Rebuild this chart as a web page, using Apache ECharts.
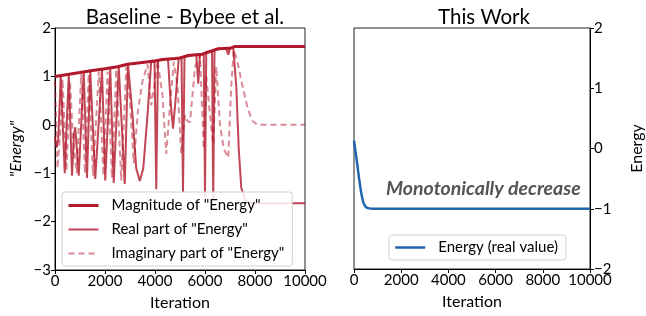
<!DOCTYPE html>
<html>
<head>
<meta charset="utf-8">
<script src="https://cdn.jsdelivr.net/npm/echarts@6/dist/echarts.min.js"></script>
<style>
  html, body { margin: 0; padding: 0; background: #fff; }
  #main { width: 646px; height: 316px; }
</style>
</head>
<body>
<div id="main"></div>
<script>
// Baseline - magnitude of "Energy"
const magIter = [0, 500, 1000, 1500, 2000, 2500, 2900, 3400, 4000, 4300, 4800, 5000, 5300, 5900, 6100, 6300, 6500, 7000, 7200, 10000]
const magVals = [1.0, 1.04, 1.08, 1.12, 1.16, 1.2, 1.25, 1.28, 1.32, 1.35, 1.37, 1.38, 1.43, 1.46, 1.5, 1.53, 1.57, 1.58, 1.62, 1.62]

// Baseline - real part
const realIter = [0, 60, 130, 230, 390, 550, 680, 760, 810, 950, 1150, 1280, 1410, 1610, 1880, 2010, 2210, 2350, 2550, 2790, 2920,
  3100, 3250, 3390, 3530, 3700, 3850, 3980, 4050, 4120, 4520, 4620, 4720, 4820, 4950, 5060, 5120, 5180,
  5650, 5730, 5800, 5950, 6000, 6050, 6280, 6330, 6380, 6850, 6930, 7000, 7130, 7250, 7350, 7450, 7600, 7800, 10000]
const realVals = [-0.25, -0.47, -0.3, 1.02, -1.0, 1.05, -1.05, -0.2, -0.05, -1.05, 1.1, -1.1, 1.12, -1.12, 1.15, -1.15, 1.18, -1.2, 1.2, -1.22, 1.26,
  0.2, -0.9, -1.16, -0.9, 0.2, 1.32, 1.33, -1.33, 1.34, 1.36, 0.5, -0.08, 0.5, 1.38, 1.39, -1.4, 1.4,
  1.45, 0.85, 1.46, 1.47, -1.5, 1.48, 1.52, -1.55, 1.55, 1.58, 1.45, 1.58, 1.6, 0.8, -0.5, -1.3, -1.55, -1.62, -1.62]

// Baseline - imaginary part
const imagIter = [0, 100, 230, 300, 460, 600, 720, 870, 1050, 1200, 1350, 1520, 1750, 1940, 2100, 2280, 2450, 2650, 2850,
  3000, 3150, 3320, 3500, 3700, 3850, 4000, 4100, 4300, 4450, 4600, 4750, 4900, 5050, 5200, 5300, 5400,
  5600, 5800, 5950, 6050, 6200, 6330, 6450, 6600, 6750, 6930, 7050, 7150, 7300, 7500, 7700, 7900, 8100, 10000]
const imagVals = [0.9, -0.9, 0.0, 0.95, -0.95, 0.9, -0.3, -1.0, 1.05, -1.0, 1.05, -1.05, 1.1, -1.05, 1.1, -1.1, 1.15, -1.15, 1.2,
  0.5, -0.8, 0.3, 0.9, 1.25, 0.4, 0.9, 1.33, 0.6, -0.6, 0.4, 1.3, 0.8, -0.6, 0.2, 0.08, 0.05,
  1.2, 1.45, -0.5, 1.0, 0.2, -0.4, 1.2, 0.0, -0.5, -0.68, 0.8, 1.55, 1.3, 0.8, 0.35, 0.08, 0.0, 0.0]

// This Work - energy
const workIter = [0, 100, 200, 300, 400, 500, 600, 800, 1000, 10000]
const workVals = [0.13, -0.15, -0.45, -0.72, -0.9, -0.97, -0.99, -1.0, -1.0, -1.0]

const xTicks = [0, 2000, 4000, 6000, 8000, 10000]

const zip = (xs, ys) => xs.map((x, i) => [x, ys[i]])

const font = 'Lato, "Open Sans", sans-serif'
const red = '#b2182b'
const blue = '#2166ac'

const xAxisBase = {
  type: 'value',
  min: xTicks[0],
  max: xTicks[xTicks.length - 1],
  interval: 2000,
  name: 'Iteration',
  nameLocation: 'middle',
  nameGap: 25,
  nameTextStyle: { fontFamily: font, fontSize: 16, color: '#000' },
  axisLine: { show: true, onZero: false, lineStyle: { color: '#000', width: 1 } },
  axisTick: { show: true, length: 4, lineStyle: { color: '#000' } },
  axisLabel: { fontFamily: font, fontSize: 15, color: '#000', margin: 4, formatter: v => String(v) },
  splitLine: { show: false }
}

const yLabel = v => (v < 0 ? '\u2212' + Math.abs(v) : String(v))

const legendText = { fontFamily: font, fontSize: 15, color: '#000', padding: [0, 0, 0, 8] }

const option = {
  animation: false,
  textStyle: { fontFamily: font },
  title: [
    { text: 'Baseline - Bybee et al.', left: 180, top: 2, textAlign: 'center',
      textStyle: { fontFamily: font, fontSize: 20.5, fontWeight: 'normal', color: '#000' } },
    { text: 'This Work', left: 479, top: 2, textAlign: 'center',
      textStyle: { fontFamily: font, fontSize: 20.5, fontWeight: 'normal', color: '#000' } }
  ],
  grid: [
    { left: 55, right: 341, top: 28, bottom: 46, show: true, borderColor: '#222', borderWidth: 1 },
    { left: 354, right: 42, top: 28, bottom: 47, show: true, borderColor: '#222', borderWidth: 1 }
  ],
  xAxis: [
    Object.assign({ gridIndex: 0 }, xAxisBase),
    Object.assign({ gridIndex: 1 }, xAxisBase)
  ],
  yAxis: [
    {
      gridIndex: 0, type: 'value', min: -3, max: 2, interval: 1,
      name: '"Energy"', nameLocation: 'middle', nameGap: 31, nameRotate: 90,
      nameTextStyle: { fontFamily: font, fontSize: 16, fontStyle: 'italic', color: '#000' },
      axisLine: { show: true, onZero: false, lineStyle: { color: '#000' } },
      axisTick: { show: true, length: 4, lineStyle: { color: '#000' } },
      axisLabel: { fontFamily: font, fontSize: 15, color: '#000', margin: 4, formatter: yLabel },
      splitLine: { show: false }
    },
    {
      gridIndex: 1, type: 'value', min: -2, max: 2, interval: 1, position: 'right',
      name: 'Energy', nameLocation: 'middle', nameGap: 39, nameRotate: 90,
      nameTextStyle: { fontFamily: font, fontSize: 16, color: '#000' },
      axisLine: { show: true, onZero: false, lineStyle: { color: '#000' } },
      axisTick: { show: true, length: 4, lineStyle: { color: '#000' } },
      axisLabel: { fontFamily: font, fontSize: 15, color: '#000', margin: 4, formatter: yLabel },
      splitLine: { show: false }
    }
  ],
  legend: [
    {
      left: 62, top: 192, orient: 'vertical', itemWidth: 30, itemHeight: 12, itemGap: 9,
      padding: [6, 8, 5, 5],
      itemStyle: { opacity: 0 },
      backgroundColor: 'rgba(255,255,255,0.85)', borderColor: '#d0d0d0', borderWidth: 1, borderRadius: 3,
      textStyle: legendText,
      data: [
        { name: 'Magnitude of "Energy"', lineStyle: { width: 3 } },
        'Real part of "Energy"',
        'Imaginary part of "Energy"'
      ]
    },
    {
      left: 389, top: 235, orient: 'vertical', itemWidth: 30, itemHeight: 12,
      padding: [5, 8, 5, 5],
      itemStyle: { opacity: 0 },
      backgroundColor: 'rgba(255,255,255,0.85)', borderColor: '#d0d0d0', borderWidth: 1, borderRadius: 3,
      textStyle: legendText,
      data: [{ name: 'Energy (real value)', lineStyle: { width: 2.5 } }]
    }
  ],
  graphic: [
    {
      type: 'text', left: 386, top: 179,
      style: {
        text: 'Monotonically decrease',
        font: 'italic bold 19.5px Lato, "Open Sans", sans-serif',
        fill: '#555'
      }
    }
  ],
  series: [
    {
      name: 'Imaginary part of "Energy"', type: 'line', xAxisIndex: 0, yAxisIndex: 0,
      symbol: 'none', data: zip(imagIter, imagVals),
      lineStyle: { color: red, width: 2, type: [6, 4], opacity: 0.5 },
      itemStyle: { color: red, opacity: 0.5 }
    },
    {
      name: 'Real part of "Energy"', type: 'line', xAxisIndex: 0, yAxisIndex: 0,
      symbol: 'none', data: zip(realIter, realVals),
      lineStyle: { color: red, width: 2, opacity: 0.8 },
      itemStyle: { color: red, opacity: 0.8 }
    },
    {
      name: 'Magnitude of "Energy"', type: 'line', xAxisIndex: 0, yAxisIndex: 0,
      symbol: 'none', data: zip(magIter, magVals),
      lineStyle: { color: red, width: 3 },
      itemStyle: { color: red }
    },
    {
      name: 'Energy (real value)', type: 'line', xAxisIndex: 1, yAxisIndex: 1,
      symbol: 'none', smooth: 0.3, data: zip(workIter, workVals),
      lineStyle: { color: blue, width: 2.5 },
      itemStyle: { color: blue }
    }
  ]
}

const chart = echarts.init(document.getElementById('main'))
chart.setOption(option)
</script>
</body>
</html>
